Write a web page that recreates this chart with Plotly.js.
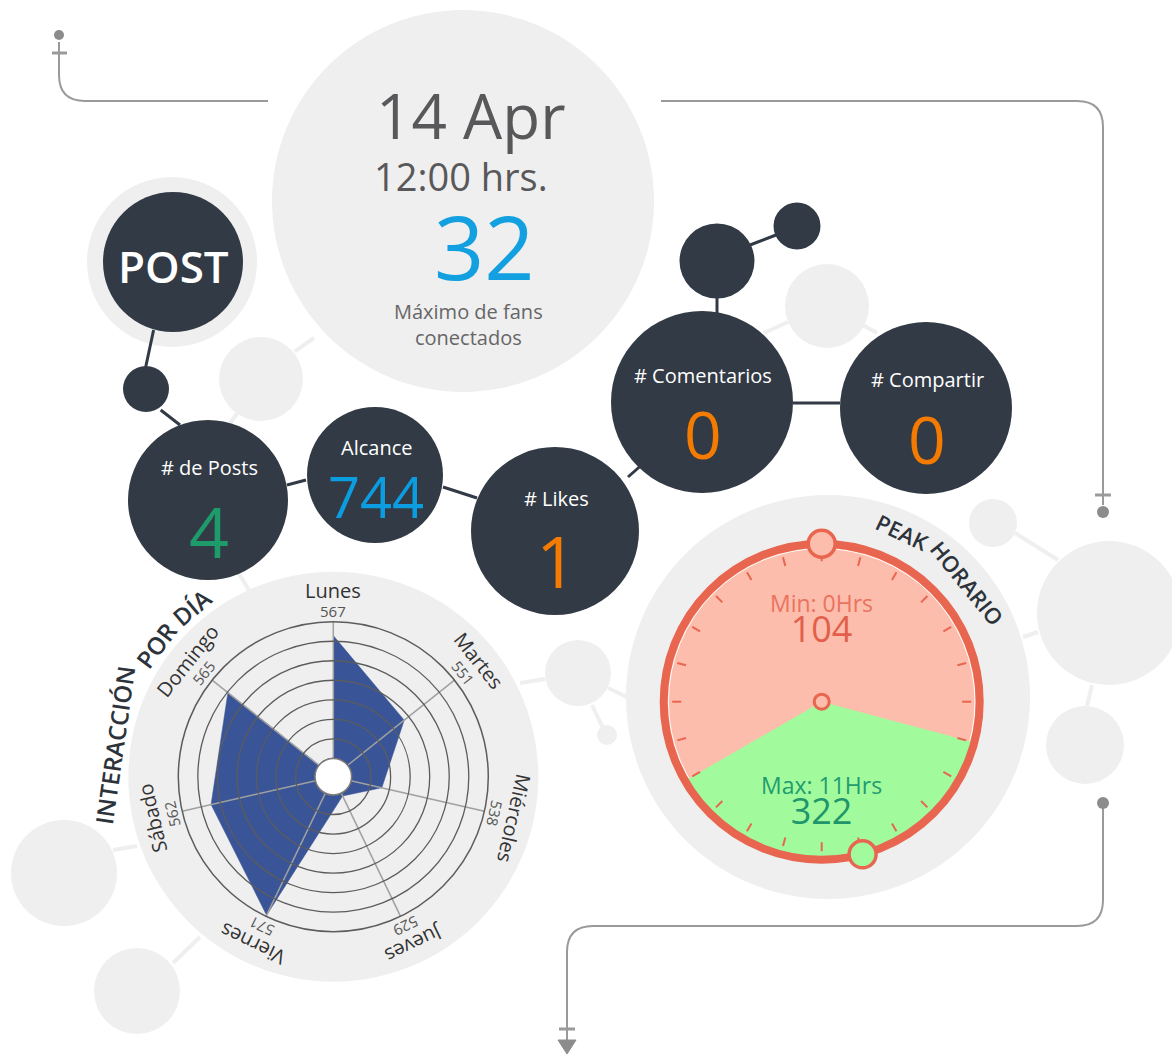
<!DOCTYPE html>
<html><head><meta charset="utf-8">
<script src="https://cdn.plot.ly/plotly-3.0.1.min.js"></script>
<style>html,body{margin:0;padding:0;background:#fff;}#chart{width:1172px;height:1055px;}</style>
</head><body><div id="chart"></div>
<script>
// ---------------- data ----------------
const headerDate = '14 Apr';
const headerTime = '12:00 hrs.';
const maxFans = 32;
const maxFansLabel = 'Máximo de fans<br>conectados';
const postLabel = 'POST';
const metricLabels = ['# de Posts', 'Alcance', '# Likes', '# Comentarios', '# Compartir'];
const metricValues = [4, 744, 1, 0, 0];
const days = ['Lunes', 'Martes', 'Miércoles', 'Jueves', 'Viernes', 'Sábado', 'Domingo'];
const dayValues = [567, 551, 538, 529, 571, 562, 565];
const radarTitle = ['INTERACCIÓN', 'POR', 'DÍA'];
const peakTitle = ['PEAK', 'HORARIO'];
const peakNames = ['Min', 'Max'];
const peakHours = [0, 11];
const peakValues = [104, 322];
const peakBandHours = [7, 16];
const hoursInDay = 24;

// ---------------- layout helpers ----------------
const W = 1172, H = 1055;
const FONT = '"Open Sans", "Noto Sans", sans-serif';
const X = v => v / W, Y = v => 1 - v / H;
const GREY = '#efefef', DARK = '#323a45', LINE = '#9a9a9a';

function circ(cx, cy, r, fill, lc, lw, layer) {
  return {type: 'circle', xref: 'paper', yref: 'paper', x0: X(cx - r), x1: X(cx + r), y0: Y(cy + r), y1: Y(cy - r),
    fillcolor: fill, line: {color: lc || fill, width: lw || 0}, layer: layer || 'below'};
}
function seg(x0, y0, x1, y1, color, w) {
  return {type: 'line', xref: 'paper', yref: 'paper', x0: X(x0), y0: Y(y0), x1: X(x1), y1: Y(y1), line: {color: color, width: w}, layer: 'below'};
}
function pathShape(cmds, color, w, fill) {
  const d = cmds.map(c => {
    const k = c[0];
    if (k === 'H') return 'H' + X(c[1]);
    if (k === 'V') return 'V' + Y(c[1]);
    if (k === 'Z') return 'Z';
    let s = k;
    for (let i = 1; i < c.length; i += 2) s += (i > 1 ? ' ' : '') + X(c[i]) + ',' + Y(c[i + 1]);
    return s;
  }).join(' ');
  return {type: 'path', xref: 'paper', yref: 'paper', path: d, line: {color: color, width: w}, fillcolor: fill || 'rgba(0,0,0,0)', layer: 'below'};
}
function txt(text, x, y, size, color, extra) {
  return Object.assign({xref: 'paper', yref: 'paper', x: X(x), y: Y(y), text: String(text), showarrow: false,
    xanchor: 'center', yanchor: 'middle', font: {family: FONT, size: size, color: color}}, extra || {});
}
function normAngle(a) { a = ((a % 360) + 360) % 360; return a > 180 ? a - 360 : a; }
const ctx = document.createElement('canvas').getContext('2d');
function measure(t, size, weight) { ctx.font = weight + ' ' + size + 'px "Open Sans"'; return ctx.measureText(t).width; }
function arcWords(words, cx, cy, r, midDeg, size, weight, color) {
  const sp = measure(' ', size, weight);
  const ws = words.map(w => measure(w, size, weight));
  const total = ws.reduce((a, b) => a + b, 0) + sp * (words.length - 1);
  let cum = -total / 2;
  return words.map((w, i) => {
    const a = midDeg + (cum + ws[i] / 2) / r * 180 / Math.PI;
    cum += ws[i] + sp;
    const rad = a * Math.PI / 180;
    return txt(w, cx + r * Math.sin(rad), cy - r * Math.cos(rad), size, color,
      {textangle: normAngle(a), font: {family: FONT, size: size, color: color, weight: weight}});
  });
}
function domainOf(c, R) { return {x: [X(c.x - R), X(c.x + R)], y: [Y(c.y + R), Y(c.y - R)]}; }

// ---------------- geometry ----------------
const RC = {x: 333.3, y: 776.7, R: 155};
const GC = {x: 821.7, y: 701.7, R: 158};
const radarDomain = domainOf(RC, RC.R);
const gaugeDomain = domainOf(GC, GC.R);
const tickDomain = domainOf(GC, 150);
const radialRange = [522.2, 571.4];
const ringStart = 528, ringCount = 7;
const rings = [];
for (let k = 0; k < ringCount; k++) rings.push(ringStart + k * (radialRange[1] - ringStart) / ringCount);

const metricNodes = [
  {x: 208, y: 500, r: 80, ly: 467, vy: 531, vs: 70},
  {x: 375, y: 475, r: 68, ly: 447, vy: 496, vs: 56},
  {x: 555, y: 531, r: 84, ly: 498, vy: 560, vs: 72},
  {x: 702, y: 402, r: 91, ly: 375, vy: 433, vs: 66},
  {x: 926, y: 408, r: 86, ly: 380, vy: 438, vs: 66}
];
const metricColors = ['#1e9b6b', '#0b9de0', '#f47b00', '#f47b00', '#f47b00'];

// ---------------- shapes ----------------
const shapes = [];
[[294.6, 351.7, 314, 338], [237.5, 413, 230, 423], [238, 572, 250, 592], [764, 333, 788, 322], [863, 325, 877, 333],
 [520, 683, 545, 679], [608, 688, 627, 697], [592, 705, 603, 728], [1015, 533, 1058, 560], [1023, 637, 1038, 632],
 [1092, 685, 1087, 706], [113, 850, 137, 846], [173, 963, 200, 937]].forEach(s => shapes.push(seg(s[0], s[1], s[2], s[3], GREY, 4)));
[[463, 201, 191], [261, 379, 42], [172, 262, 85], [827, 306, 42], [333.3, 776.7, 205], [828, 697, 202],
 [578, 673, 33], [607, 735, 10], [993, 523, 24], [1109, 613, 72], [1085, 745, 39], [64, 873, 53], [137, 991, 43]]
  .forEach(c => shapes.push(circ(c[0], c[1], c[2], GREY)));
[[153.6, 330, 145.7, 367], [160.7, 410, 180, 425], [287, 485, 306, 480], [443, 487, 477, 498], [628, 477, 645, 462],
 [793, 403, 840, 403], [717, 297, 717, 313], [750, 245, 776, 235]].forEach(s => shapes.push(seg(s[0], s[1], s[2], s[3], DARK, 3)));
shapes.push(circ(173, 262, 70, DARK));
shapes.push(circ(146, 389, 23, DARK));
shapes.push(circ(717, 261, 37.5, DARK));
shapes.push(circ(797, 226, 23.5, DARK));
metricNodes.forEach(n => shapes.push(circ(n.x, n.y, n.r, DARK)));
shapes.push(pathShape([['M', 59, 42], ['V', 75], ['Q', 59, 101, 85, 101], ['H', 268]], LINE, 2));
shapes.push(pathShape([['M', 661, 101], ['H', 1077], ['Q', 1103, 101, 1103, 127], ['V', 505]], LINE, 2));
shapes.push(pathShape([['M', 1103, 803], ['V', 900], ['Q', 1103, 926, 1077, 926], ['H', 593], ['Q', 567, 926, 567, 952], ['V', 1042]], LINE, 2));
shapes.push(seg(52, 53, 67, 53, LINE, 3));
shapes.push(seg(1095, 495, 1111, 495, LINE, 3));
shapes.push(seg(559, 1029, 575, 1029, LINE, 3));
shapes.push(circ(59, 35, 5, '#8c8c8c'));
shapes.push(circ(1103, 512, 6, '#8c8c8c'));
shapes.push(circ(1103, 803, 6, '#8c8c8c'));
shapes.push(pathShape([['M', 558, 1040], ['L', 576, 1040], ['L', 567, 1054], ['Z']], '#8c8c8c', 1, '#8c8c8c'));
shapes.push(circ(RC.x, RC.y, 18.3, '#ffffff', '#7a7a7a', 1.5, 'above'));

// ---------------- annotations ----------------
const ann = [];
ann.push(txt(headerDate, 470, 115, 62, '#58585a'));
ann.push(txt(headerTime, 461, 176, 38, '#58585a'));
ann.push(txt(maxFans, 484, 246, 88, '#12a0e0'));
ann.push(txt(maxFansLabel, 468, 325, 20, '#666666'));
ann.push(txt(postLabel, 173, 266, 44, '#ffffff', {font: {family: FONT, size: 44, color: '#ffffff', weight: 600}}));
metricLabels.forEach((l, i) => {
  const n = metricNodes[i];
  ann.push(txt(l, n.x + 1, n.ly, 20, '#ffffff'));
  ann.push(txt(metricValues[i], n.x + 1, n.vy, n.vs, metricColors[i]));
});
days.forEach((d, i) => {
  const a = i * 360 / days.length, rad = a * Math.PI / 180;
  ann.push(txt(d, RC.x + 186 * Math.sin(rad), RC.y - 186 * Math.cos(rad), 20, '#333333', {textangle: normAngle(a)}));
  ann.push(txt(dayValues[i], RC.x + 166 * Math.sin(rad), RC.y - 166 * Math.cos(rad), 15, '#555555', {textangle: normAngle(a)}));
});
arcWords(radarTitle, RC.x, RC.y, 221, 291.4, 24, 600, '#2d333b').forEach(a => ann.push(a));
arcWords(peakTitle, GC.x, GC.y, 188, 41.7, 22, 600, '#2d333b').forEach(a => ann.push(a));
// gauge labels: name/hour line plus value line in one text block
const peakTextColors = [['#e9735e', '#e2604b'], ['#239b70', '#1f956a']];
const peakTextY = [620, 802];
peakNames.forEach((nm, i) => {
  const t = nm + ': ' + peakHours[i] + 'Hrs<br><span style="font-size:36px;fill:' + peakTextColors[i][1] + '">' + peakValues[i] + '</span>';
  ann.push(txt(t, GC.x, peakTextY[i], 23, peakTextColors[i][0]));
});

// ---------------- traces ----------------
const degPerHour = 360 / hoursInDay;
const data = [
  {type: 'scatterpolar', subplot: 'polar', r: dayValues.concat([radialRange[0]]), theta: days.concat([days[0]]),
   mode: 'lines', fill: 'toself', fillcolor: '#3a5597', line: {color: '#3a5597', width: 0.5}, hoverinfo: 'skip', showlegend: false},
  {type: 'scatterpolar', subplot: 'polar2', r: [radialRange[0]], theta: [days[0]], mode: 'markers',
   marker: {opacity: 0}, hoverinfo: 'skip', showlegend: false},
  {type: 'barpolar', subplot: 'polar3', r: [1], base: [0],
   theta: [(peakBandHours[0] + peakBandHours[1]) / 2 * degPerHour], width: [(peakBandHours[1] - peakBandHours[0]) * degPerHour],
   marker: {color: '#a1fb9d', line: {width: 0}}, hoverinfo: 'skip', showlegend: false},
  {type: 'scatterpolar', subplot: 'polar4', r: [0], theta: [0], mode: 'markers', cliponaxis: false,
   marker: {size: 15, color: '#fdbdac', opacity: 1, line: {color: '#e8654f', width: 3}}, hoverinfo: 'skip', showlegend: false},
  {type: 'scatterpolar', subplot: 'polar5', r: [1, 1], theta: [peakHours[0] * degPerHour, peakHours[1] * degPerHour],
   mode: 'markers', cliponaxis: false,
   marker: {size: 27, color: ['#fdbdac', '#a1fb9d'], opacity: 1, line: {color: '#e8654f', width: 3.5}},
   hoverinfo: 'skip', showlegend: false}
];

const clear = 'rgba(0,0,0,0)';
const hiddenAng = {direction: 'clockwise', rotation: 90, thetaunit: 'degrees', visible: false};
const layout = {
  width: W, height: H, margin: {l: 0, r: 0, t: 0, b: 0}, paper_bgcolor: '#ffffff', plot_bgcolor: '#ffffff',
  showlegend: false, shapes: shapes, annotations: ann,
  polar: {domain: radarDomain, bgcolor: clear,
    radialaxis: {range: radialRange, autorange: false, visible: false},
    angularaxis: {type: 'category', categoryarray: days, direction: 'clockwise', rotation: 90, visible: false}},
  polar2: {domain: radarDomain, bgcolor: clear,
    radialaxis: {range: radialRange, autorange: false, tickmode: 'array', tickvals: rings, showticklabels: false, ticks: '',
      showline: false, gridcolor: '#5c5c5c', gridwidth: 1.3},
    angularaxis: {type: 'category', categoryarray: days, direction: 'clockwise', rotation: 90, showticklabels: false, ticks: '',
      gridcolor: '#a0a0a0', gridwidth: 1.5, showline: true, linecolor: '#5c5c5c', linewidth: 1.5}},
  polar3: {domain: gaugeDomain, bgcolor: '#fdbdac',
    radialaxis: {range: [0, 1], autorange: false, tickmode: 'array', tickvals: [0.97], showticklabels: false, ticks: '',
      showline: false, gridcolor: '#ffffff', gridwidth: 1},
    angularaxis: {direction: 'clockwise', rotation: 90, thetaunit: 'degrees', ticks: '', showticklabels: false, showgrid: false,
      showline: true, linecolor: '#e8654f', linewidth: 8, layer: 'above traces'}},
  polar4: {domain: tickDomain, bgcolor: clear,
    radialaxis: {range: [0, 1], autorange: false, visible: false},
    angularaxis: {direction: 'clockwise', rotation: 90, thetaunit: 'degrees', tickmode: 'linear', tick0: 0, dtick: degPerHour,
      ticks: 'inside', ticklen: 9, tickwidth: 2, tickcolor: '#e8654f', showticklabels: false, showgrid: false, showline: false}},
  polar5: {domain: gaugeDomain, bgcolor: clear,
    radialaxis: {range: [0, 1], autorange: false, visible: false}, angularaxis: hiddenAng}
};

Plotly.newPlot('chart', data, layout, {displayModeBar: false, staticPlot: true});
</script></body></html>
